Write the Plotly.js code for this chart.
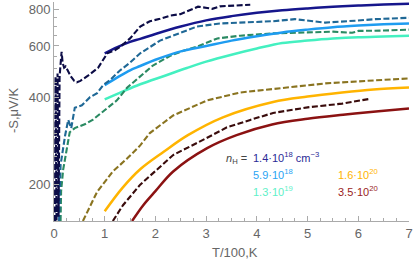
<!DOCTYPE html>
<html>
<head>
<meta charset="utf-8">
<script src="https://cdn.plot.ly/plotly-3.0.1.min.js"></script>
<style>html,body{margin:0;padding:0;background:#fff;}#chart{width:415px;height:269px;}</style>
</head>
<body>
<div id="chart"></div>
<script>
// ---- data (T/100 K, -S in µV/K) ----
var navyTheoryX = [1.0,1.25,1.5,1.7,2.0,2.5,3.0,3.5,4.0,4.5,5.0,5.5,6.0,6.5,7.0];
var navyTheoryY = [566,595,620,635,660,700,735,760,780,796,808,818,826,833,838];

var navyExpX = [0.02,0.03,0.05,0.07,0.09,0.11,0.13,0.15,0.17,0.20,0.23,0.27,0.33,0.40,0.45,0.52,0.67,0.87,1.05,1.20,1.30,1.50,1.70,1.89,2.09,2.29,2.49,2.74,2.84,3.02,3.12,3.27,3.53,3.87];
var navyExpY = [150,470,150,482,155,470,520,573,525,505,510,495,472,455,450,455,474,505,566,580,595,637,700,730,744,763,772,805,819,811,805,821,826,832];

var blueTheoryX = [1.0,1.25,1.5,1.7,2.0,2.5,3.0,3.5,4.0,4.5,5.0,5.5,6.0,6.5,7.0];
var blueTheoryY = [440,468,495,512,538,575,600,626,648,668,683,696,705,712,717];

var blueExpX = [0.10,0.12,0.13,0.22,0.28,0.34,0.41,0.55,0.71,0.85,0.97,1.10,1.30,1.50,1.70,2.09,2.49,2.82,3.27,3.87,4.32,4.75,5.35,5.94,6.33,7.0];
var blueExpY = [150,200,234,296,334,313,368,375,400,413,440,457,494,526,566,626,667,700,717,722,730,742,722,733,742,750];

var aquaTheoryX = [1.0,1.35,1.7,2.2,2.62,3.0,3.5,4.0,4.5,5.0,5.5,6.0,6.5,7.0];
var aquaTheoryY = [393,418,443,475,504,530,560,588,614,626,636,643,647,651];

var greenExpX = [0.13,0.14,0.18,0.24,0.27,0.31,0.41,0.52,0.63,0.77,0.87,1.06,1.24,1.44,1.70,1.95,2.29,2.55,2.80,3.02,3.22,3.67,4.32,5.0,5.5,5.88,6.0,6.5,7.0];
var greenExpY = [150,190,225,262,280,303,313,318,324,335,346,369,390,431,472,514,555,578,595,617,637,651,663,668,672,666,676,678,683];

var oliveExpX = [0.57,0.85,1.16,1.44,1.70,1.89,2.35,3.02,3.67,4.32,5.35,6.33,7.0];
var oliveExpY = [150,189,222,246,273,301,346,390,415,427,446,457,464];

var goldTheoryX = [1.0,1.35,1.7,2.17,2.64,3.33,4.32,5.0,5.68,6.3,7.0];
var goldTheoryY = [162,195,226,260,296,341,385,402,415,425,432];

var brownExpX = [1.16,1.36,1.70,2.35,3.02,3.41,3.87,4.32,5.0,5.68,6.2];
var brownExpY = [150,170,200,253,290,315,334,353,369,380,394];

var redTheoryX = [1.54,1.76,2.0,2.35,3.02,3.6,4.3,5.0,5.7,6.4,7.0];
var redTheoryY = [150,170,190,222,267,296,322,337,348,358,366];

var yTickVals = [200,400,600,800];
var yMinorVals = [150,250,300,350,450,500,550,650,700,750,850];
var densityLabels = ["1.4\u00B710<sup>18</sup> cm<sup>\u22123</sup>","5.9\u00B710<sup>18</sup>","1.3\u00B710<sup>19</sup>","1.6\u00B710<sup>20</sup>","3.5\u00B710<sup>20</sup>"];

// ---- styling ----
var DASH = "6px,2.5px";
function solid(x,y,c){return {x:x,y:y,mode:"lines",type:"scatter",line:{color:c,width:2.5,shape:"spline"},hoverinfo:"skip"};}
function dashed(x,y,c){return {x:x,y:y,mode:"lines",type:"scatter",line:{color:c,width:2.1,dash:DASH},hoverinfo:"skip"};}

var traces = [
  solid(redTheoryX, redTheoryY, "#8b1212"),
  dashed(brownExpX, brownExpY, "#3a0c0c"),
  solid(goldTheoryX, goldTheoryY, "#ffb400"),
  dashed(oliveExpX, oliveExpY, "#8a7420"),
  solid(aquaTheoryX, aquaTheoryY, "#44f0c0"),
  dashed(greenExpX, greenExpY, "#2a8a62"),
  solid(blueTheoryX, blueTheoryY, "#1e9cf0"),
  dashed(blueExpX, blueExpY, "#1f6896"),
  solid(navyTheoryX, navyTheoryY, "#16168c"),
  dashed(navyExpX, navyExpY, "#0c0c46")
];

var tickFont = {family:"Liberation Sans, Arial, sans-serif", size:13, color:"#666"};
var legFont = function(c){return {family:"Liberation Sans, Arial, sans-serif", size:11, color:c};};
var plotL = 54, plotR = 409, plotT = 2, plotB = 221;
function px(xp){return (xp-plotL)/(plotR-plotL);}
function py(yp){return (plotB-yp)/(plotB-plotT);}

var annotations = [
  {text:"<i>n</i><sub>H</sub> =", x:px(248), y:py(159), xanchor:"right", yanchor:"middle", font:legFont("#444")},
  {text:densityLabels[0], x:px(252), y:py(157), xanchor:"left", yanchor:"middle", font:legFont("#2a2a96")},
  {text:densityLabels[1], x:px(252), y:py(174), xanchor:"left", yanchor:"middle", font:legFont("#2aa4f4")},
  {text:densityLabels[2], x:px(252), y:py(191), xanchor:"left", yanchor:"middle", font:legFont("#5ef0c8")},
  {text:densityLabels[3], x:px(337), y:py(174), xanchor:"left", yanchor:"middle", font:legFont("#ffb400")},
  {text:densityLabels[4], x:px(337), y:py(191), xanchor:"left", yanchor:"middle", font:legFont("#9a1c1c")},
  {text:"-S,\u03BCV/K", x:px(13), y:py(111), xanchor:"center", yanchor:"middle", textangle:-90, font:{family:"Liberation Sans, Arial, sans-serif", size:13, color:"#666"}},
  {text:"T/100,K", x:px(235), y:py(252), xanchor:"center", yanchor:"middle", font:{family:"Liberation Sans, Arial, sans-serif", size:13, color:"#666"}}
];
annotations.forEach(function(a){a.xref="paper";a.yref="paper";a.showarrow=false;a.borderpad=0;});

var layout = {
  width:415, height:269,
  margin:{l:plotL, r:415-plotR, t:plotT, b:269-plotB, pad:0},
  paper_bgcolor:"#fff", plot_bgcolor:"#fff",
  showlegend:false,
  xaxis:{range:[0,7], tickmode:"linear", tick0:0, dtick:1, ticks:"inside", ticklen:5, tickcolor:"#aaa", tickwidth:1,
         showline:true, linecolor:"#aaa", linewidth:1, showgrid:false, zeroline:false, tickfont:tickFont,
         minor:{ticks:"inside", dtick:0.25, tick0:0, ticklen:3, tickcolor:"#aaa", showgrid:false}},
  yaxis:{type:"log", range:[Math.log10(150), Math.log10(850)], tickmode:"array", tickvals:yTickVals, ticktext:yTickVals.map(String),
         ticks:"inside", ticklen:5, tickcolor:"#aaa", tickwidth:1, showline:true, linecolor:"#aaa", linewidth:1,
         showgrid:false, zeroline:false, tickfont:tickFont,
         minor:{ticks:"inside", tickmode:"array", tickvals:yMinorVals, ticklen:3, tickcolor:"#aaa", showgrid:false}},
  annotations:annotations
};

Plotly.newPlot("chart", traces, layout, {staticPlot:true, displayModeBar:false});
</script>
</body>
</html>
